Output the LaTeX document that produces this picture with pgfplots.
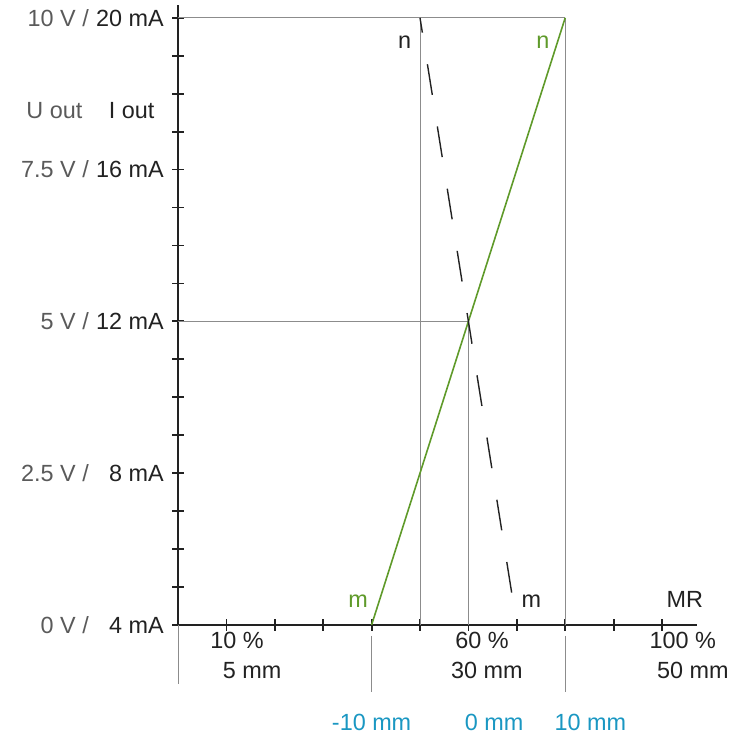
\documentclass[border=0pt]{standalone}
\usepackage{pgfplots}
\pgfplotsset{compat=1.18}
\usepackage{fontspec}
\setmainfont{Liberation Sans}
\definecolor{tgray}{HTML}{5A5A5A}
\definecolor{lgray}{HTML}{8C8C8C}
\definecolor{lgreen}{HTML}{5F9A2A}
\definecolor{tblue}{HTML}{1A97C2}
\definecolor{axblack}{HTML}{222222}
\newcommand{\yl}[2]{{\color{tgray}#1}\makebox[37.5pt][r]{#2}}
\begin{document}
\fontsize{11.7}{14}\selectfont
\begin{tikzpicture}
\begin{axis}[
  x=2.42pt, y=18.97pt,
  xmin=0, xmax=107.2, ymin=4, ymax=20.35,
  axis lines=left,
  axis line style={-, axblack, line width=1pt},
  clip=false,
  tick align=center,
  major tick length=6pt,
  tick style={axblack, line width=0.9pt},
  xtick={10,20,...,100},
  xticklabels={},
  ytick={4,5,...,20},
  yticklabels={\yl{0 V /}{4 mA},,,,\yl{2.5 V /}{8 mA},,,,\yl{5 V /}{12 mA},,,,\yl{7.5 V /}{16 mA},,,,\yl{10 V /}{20 mA}},
  yticklabel style={font=\fontsize{11.7}{14}\selectfont, text=axblack, xshift=0pt},
  every tick label/.append style={font=\fontsize{11.7}{14}\selectfont},
]
% reference grey lines
\addplot[lgray, line width=0.5pt] coordinates {(0,20) (80,20)};
\addplot[lgray, line width=0.5pt] coordinates {(0,12) (60,12)};
\addplot[lgray, line width=0.5pt] coordinates {(50,20) (50,4)};
\addplot[lgray, line width=0.5pt] coordinates {(60,12) (60,4)};
\addplot[lgray, line width=0.5pt] coordinates {(80,20) (80,4)};
% lines below axis
\addplot[lgray, line width=0.5pt] coordinates {(0,4) (0,2.45)};
\addplot[lgray, line width=0.5pt] coordinates {(40,3.71) (40,2.24)};
\addplot[lgray, line width=0.5pt] coordinates {(80,3.71) (80,2.24)};
% characteristic lines
\addplot[lgreen, line width=0.8pt] coordinates {(40,4) (80,20)};
\addplot[axblack, line width=0.7pt, dash pattern=on 15.5pt off 16pt, dash phase=8pt] coordinates {(50,20) (70,4)};
% labels
\node[text=lgreen, anchor=base] at (axis cs:37.2,4.45) {m};
\node[text=axblack, anchor=base] at (axis cs:73.0,4.45) {m};
\node[text=axblack, anchor=base] at (axis cs:46.8,19.2) {n};
\node[text=lgreen, anchor=base] at (axis cs:75.4,19.2) {n};
\node[text=axblack, anchor=base] at (axis cs:104.7,4.45) {MR};
\node[text=axblack, anchor=base] at (axis cs:12.2,3.37) {10 \%};
\node[text=axblack, anchor=base] at (axis cs:15.3,2.58) {5 mm};
\node[text=axblack, anchor=base] at (axis cs:62.8,3.37) {60 \%};
\node[text=axblack, anchor=base] at (axis cs:63.8,2.58) {30 mm};
\node[text=axblack, anchor=base] at (axis cs:104.3,3.37) {100 \%};
\node[text=axblack, anchor=base] at (axis cs:106.4,2.58) {50 mm};
\node[text=tblue, anchor=base] at (axis cs:40.0,1.22) {-10 mm};
\node[text=tblue, anchor=base] at (axis cs:65.3,1.22) {0 mm};
\node[text=tblue, anchor=base] at (axis cs:85.2,1.22) {10 mm};
\node[text=tgray, anchor=base west] at (axis cs:-33.0,17.35) {U out};
\node[text=axblack, anchor=base east] at (axis cs:-3.2,17.35) {I out};
\coordinate (bl) at (axis cs:-36.78,1.074);
\coordinate (tr) at (axis cs:116.94,20.47);
\end{axis}
\pgfresetboundingbox
\path (bl) rectangle (tr);
\end{tikzpicture}
\end{document}
